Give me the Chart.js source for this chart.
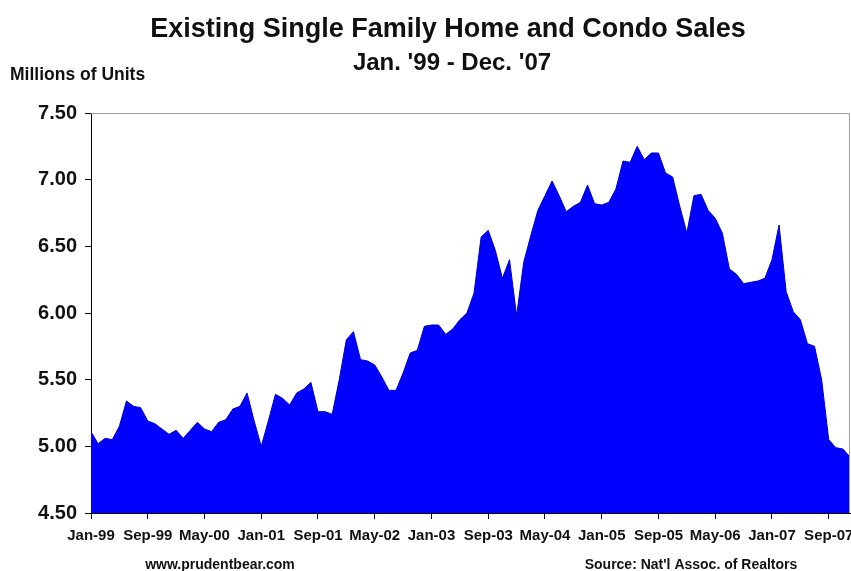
<!DOCTYPE html>
<html>
<head>
<meta charset="utf-8">
<title>Existing Single Family Home and Condo Sales</title>
<script src="https://cdn.jsdelivr.net/npm/chart.js@4"></script>
<style>
  html, body { margin: 0; padding: 0; background: #fff; }
  #wrap { width: 851px; height: 571px; }
</style>
</head>
<body>
<div id="wrap"><canvas id="salesChart"></canvas></div>
<script>
// Monthly existing home sales, seasonally adjusted annual rate (millions of units)
var monthNames = ['Jan', 'Feb', 'Mar', 'Apr', 'May', 'Jun', 'Jul', 'Aug', 'Sep', 'Oct', 'Nov', 'Dec'];
var years = ['99', '00', '01', '02', '03', '04', '05', '06', '07'];

var sales1999 = [5.11, 5.02, 5.06, 5.05, 5.15, 5.34, 5.30, 5.29, 5.19, 5.17, 5.13, 5.09];
var sales2000 = [5.12, 5.06, 5.12, 5.18, 5.13, 5.11, 5.18, 5.20, 5.28, 5.30, 5.40, 5.19];
var sales2001 = [5.00, 5.19, 5.39, 5.36, 5.31, 5.40, 5.43, 5.48, 5.26, 5.26, 5.24, 5.50];
var sales2002 = [5.80, 5.86, 5.65, 5.64, 5.61, 5.52, 5.42, 5.42, 5.55, 5.70, 5.72, 5.90];
var sales2003 = [5.91, 5.91, 5.84, 5.88, 5.95, 6.00, 6.15, 6.57, 6.62, 6.47, 6.26, 6.40];
var sales2004 = [5.98, 6.38, 6.58, 6.77, 6.88, 6.99, 6.88, 6.76, 6.80, 6.83, 6.96, 6.82];
var sales2005 = [6.81, 6.83, 6.93, 7.14, 7.13, 7.25, 7.15, 7.20, 7.20, 7.05, 7.02, 6.80];
var sales2006 = [6.60, 6.88, 6.89, 6.77, 6.71, 6.60, 6.33, 6.29, 6.22, 6.23, 6.24, 6.26];
var sales2007 = [6.40, 6.66, 6.16, 6.01, 5.95, 5.77, 5.75, 5.50, 5.05, 4.99, 4.98, 4.92];

var yTicks = [4.5, 5.0, 5.5, 6.0, 6.5, 7.0, 7.5];

var labels = [];
years.forEach(function (yr) {
    monthNames.forEach(function (m) { labels.push(m + '-' + yr); });
});
var sales = [].concat(sales1999, sales2000, sales2001, sales2002, sales2003,
                      sales2004, sales2005, sales2006, sales2007);

var fontFamily = 'Arial, "Liberation Sans", Helvetica, sans-serif';

// titles, axis caption, footer notes and the grey frame of the plot area
var decorations = {
    id: 'decorations',
    afterDraw: function (chart) {
        var ctx = chart.ctx;
        var area = chart.chartArea;
        ctx.save();
        ctx.strokeStyle = '#a0a0a0';
        ctx.lineWidth = 1;
        ctx.beginPath();
        ctx.moveTo(area.left, area.top + 0.5);
        ctx.lineTo(area.right - 0.5, area.top + 0.5);
        ctx.lineTo(area.right - 0.5, area.bottom);
        ctx.stroke();

        ctx.fillStyle = '#111';
        ctx.textBaseline = 'alphabetic';
        ctx.textAlign = 'center';
        ctx.font = 'bold 27px ' + fontFamily;
        ctx.fillText('Existing Single Family Home and Condo Sales', 448, 37);
        ctx.font = 'bold 24px ' + fontFamily;
        ctx.fillText("Jan. '99 - Dec. '07", 452, 70);
        ctx.textAlign = 'left';
        ctx.font = 'bold 17.5px ' + fontFamily;
        ctx.fillText('Millions of Units', 10, 80);
        ctx.textAlign = 'center';
        ctx.font = 'bold 14px ' + fontFamily;
        ctx.fillText('www.prudentbear.com', 220, 569);
        ctx.fillText("Source: Nat'l Assoc. of Realtors", 691, 569);
        ctx.restore();
    }
};

var ctx = document.getElementById('salesChart').getContext('2d');
var salesChart = new Chart(ctx, {
    type: 'line',
    data: {
        labels: labels,
        datasets: [{
            data: sales,
            fill: 'start',
            backgroundColor: '#0000ff',
            borderColor: '#0000c8',
            borderWidth: 1,
            pointRadius: 0,
            tension: 0
        }]
    },
    options: {
        responsive: true,
        maintainAspectRatio: false,
        animation: false,
        layout: {
            padding: { top: 113, right: 1, bottom: 0, left: 0 }
        },
        scales: {
            x: {
                offset: false,
                afterFit: function (scale) {
                    scale.height = 58;
                    scale.paddingLeft = 0;
                    scale.paddingRight = 0;
                },
                grid: {
                    drawOnChartArea: false,
                    tickLength: 6,
                    color: function (c) { return c.index % 8 === 0 ? '#000' : 'rgba(0,0,0,0)'; }
                },
                border: { display: true, color: '#000', width: 1 },
                ticks: {
                    autoSkip: false,
                    maxRotation: 0,
                    minRotation: 0,
                    padding: 8,
                    color: '#111',
                    font: { family: fontFamily, size: 15, weight: 'bold' },
                    callback: function (value, index) {
                        return index % 8 === 0 ? labels[index] : '';
                    }
                }
            },
            y: {
                min: 4.5,
                max: 7.5,
                afterFit: function (scale) { scale.width = 91; },
                afterBuildTicks: function (scale) {
                    scale.ticks = yTicks.map(function (v) { return { value: v }; });
                },
                grid: {
                    drawOnChartArea: false,
                    tickLength: 6,
                    color: '#000'
                },
                border: { display: true, color: '#000', width: 1 },
                ticks: {
                    padding: 8,
                    color: '#111',
                    font: { family: fontFamily, size: 20, weight: 'bold' },
                    callback: function (value) { return Number(value).toFixed(2); }
                }
            }
        },
        plugins: {
            legend: { display: false },
            tooltip: { enabled: false }
        }
    },
    plugins: [decorations]
});
</script>
</body>
</html>
